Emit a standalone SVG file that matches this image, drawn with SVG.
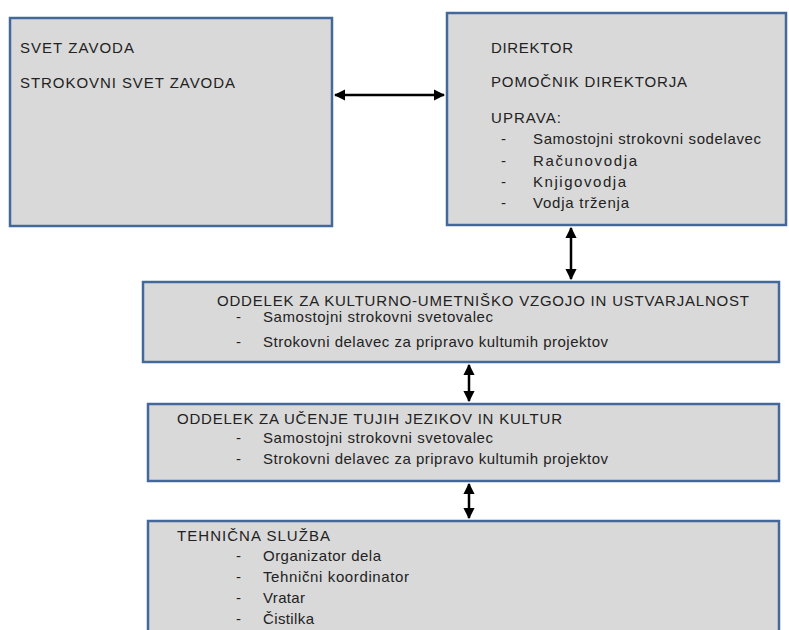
<svg xmlns="http://www.w3.org/2000/svg" width="789" height="630" viewBox="0 0 789 630">
<style>
.box{fill:#d9d9d9;stroke:#44689a;stroke-width:2.5}
text{font-family:"Liberation Sans",Arial,sans-serif;font-size:15px;fill:#222}
.con{stroke:#000;stroke-width:2.5;fill:none;marker-start:url(#ah);marker-end:url(#ah)}
</style>
<defs>
<marker id="ah" viewBox="0 0 10 10" refX="9" refY="5" markerWidth="4.5" markerHeight="4.5" orient="auto-start-reverse">
<path d="M0,0 L10,5 L0,10 z" fill="#000"/>
</marker>
</defs>
<rect width="789" height="630" fill="#fff"/>
<g id="svet">
<rect class="box" x="10" y="18" width="322" height="208"/>
<text x="20" y="53" textLength="114" lengthAdjust="spacing">SVET ZAVODA</text>
<text x="20" y="88" textLength="215" lengthAdjust="spacing">STROKOVNI SVET ZAVODA</text>
</g>
<g id="direktor">
<rect class="box" x="447" y="13" width="339" height="212"/>
<text x="491" y="53" textLength="82" lengthAdjust="spacing">DIREKTOR</text>
<text x="491" y="87" textLength="196" lengthAdjust="spacing">POMOČNIK DIREKTORJA</text>
<text x="491" y="123" textLength="70" lengthAdjust="spacing">UPRAVA:</text>
<text x="501" y="144">-</text><text x="533" y="144" textLength="228" lengthAdjust="spacing">Samostojni strokovni sodelavec</text>
<text x="501" y="165.5">-</text><text x="533" y="165.5" textLength="104" lengthAdjust="spacing">Računovodja</text>
<text x="501" y="187">-</text><text x="533" y="187" textLength="93" lengthAdjust="spacing">Knjigovodja</text>
<text x="501" y="208">-</text><text x="533" y="208" textLength="96" lengthAdjust="spacing">Vodja trženja</text>
</g>
<g id="oddelek-kultura">
<rect class="box" x="143" y="282" width="636" height="80"/>
<text x="217" y="306" textLength="532" lengthAdjust="spacing">ODDELEK ZA KULTURNO-UMETNIŠKO VZGOJO IN USTVARJALNOST</text>
<text x="236" y="322">-</text><text x="263" y="322" textLength="230" lengthAdjust="spacing">Samostojni strokovni svetovalec</text>
<text x="236" y="347">-</text><text x="263" y="347" textLength="345" lengthAdjust="spacing">Strokovni delavec za pripravo kultumih projektov</text>
</g>
<g id="oddelek-jeziki">
<rect class="box" x="148" y="404" width="631" height="77"/>
<text x="177" y="424" textLength="385" lengthAdjust="spacing">ODDELEK ZA UČENJE TUJIH JEZIKOV IN KULTUR</text>
<text x="236" y="443">-</text><text x="263" y="443" textLength="230" lengthAdjust="spacing">Samostojni strokovni svetovalec</text>
<text x="236" y="464">-</text><text x="263" y="464" textLength="345" lengthAdjust="spacing">Strokovni delavec za pripravo kultumih projektov</text>
</g>
<g id="tehnicna">
<rect class="box" x="148" y="521" width="631" height="130"/>
<text x="177" y="541" textLength="153" lengthAdjust="spacing">TEHNIČNA SLUŽBA</text>
<text x="236" y="561">-</text><text x="263" y="561" textLength="118" lengthAdjust="spacing">Organizator dela</text>
<text x="236" y="582">-</text><text x="263" y="582" textLength="146" lengthAdjust="spacing">Tehnični koordinator</text>
<text x="236" y="603">-</text><text x="263" y="603" textLength="42" lengthAdjust="spacing">Vratar</text>
<text x="236" y="624">-</text><text x="263" y="624" textLength="51" lengthAdjust="spacing">Čistilka</text>
</g>
<g id="connectors">
<line class="con" x1="335" y1="95" x2="444" y2="95"/>
<line class="con" x1="571" y1="228" x2="571" y2="279"/>
<line class="con" x1="469" y1="365" x2="469" y2="401"/>
<line class="con" x1="469" y1="484" x2="469" y2="518"/>
</g>
</svg>
